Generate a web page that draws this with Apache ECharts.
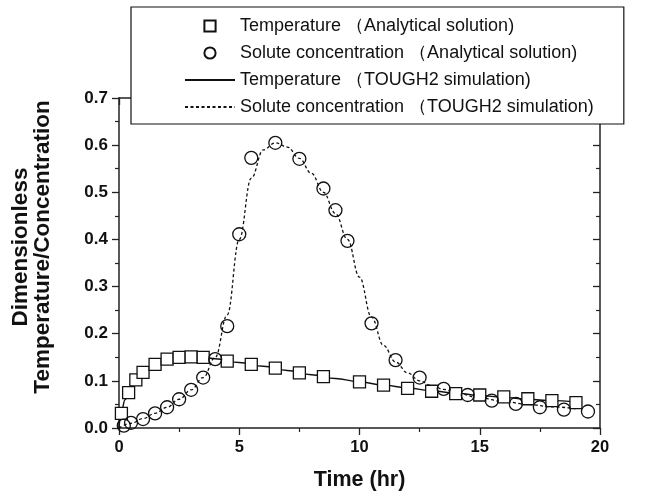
<!DOCTYPE html>
<html>
<head>
<meta charset="utf-8">
<script src="https://cdn.jsdelivr.net/npm/echarts@6/dist/echarts.min.js"></script>
<style>html,body{margin:0;padding:0;background:#fff;}#c{width:655px;height:497px;}</style>
</head>
<body>
<div id="c"></div>
<script>
// Analytical solution: temperature (squares)
var tempTime = [0.1, 0.4, 0.7, 1, 1.5, 2, 2.5, 3, 3.5, 4.5, 5.5, 6.5, 7.5, 8.5, 10, 11, 12, 13, 14, 15, 16, 17, 18, 19];
var tempValue = [0.031, 0.075, 0.102, 0.118, 0.135, 0.146, 0.150, 0.151, 0.150, 0.142, 0.135, 0.127, 0.117, 0.109, 0.098, 0.091, 0.084, 0.078, 0.073, 0.070, 0.066, 0.062, 0.058, 0.054];
// Analytical solution: solute concentration (circles)
var concTime = [0.2, 0.5, 1, 1.5, 2, 2.5, 3, 3.5, 4, 4.5, 5, 5.5, 6.5, 7.5, 8.5, 9, 9.5, 10.5, 11.5, 12.5, 13.5, 14.5, 15.5, 16.5, 17.5, 18.5, 19.5];
var concValue = [0.005, 0.011, 0.019, 0.031, 0.044, 0.061, 0.081, 0.107, 0.146, 0.216, 0.411, 0.573, 0.605, 0.571, 0.508, 0.462, 0.397, 0.222, 0.144, 0.107, 0.083, 0.070, 0.058, 0.051, 0.044, 0.039, 0.035];
// TOUGH2 simulation: temperature (solid line)
var simTempTime = [0, 0.1, 0.25, 0.5, 0.75, 1, 1.5, 2, 2.5, 3, 3.5, 4, 5, 6, 7, 8, 9, 10, 11, 12, 13, 14, 15, 16, 17, 18, 19];
var simTempValue = [0, 0.035, 0.06, 0.088, 0.106, 0.119, 0.135, 0.145, 0.150, 0.151, 0.150, 0.147, 0.139, 0.131, 0.122, 0.113, 0.105, 0.098, 0.091, 0.085, 0.079, 0.074, 0.069, 0.065, 0.061, 0.058, 0.055];
// TOUGH2 simulation: solute concentration (dashed line)
var simConcTime = [0, 0.5, 1, 1.5, 2, 2.5, 3, 3.5, 4, 4.5, 5, 5.5, 6, 6.5, 7, 7.5, 8, 8.5, 9, 9.5, 10, 10.5, 11, 11.5, 12, 12.5, 13, 13.5, 14, 15, 16, 17, 18, 19];
var simConcValue = [0, 0.01, 0.02, 0.031, 0.044, 0.061, 0.081, 0.107, 0.15, 0.24, 0.40, 0.53, 0.59, 0.605, 0.596, 0.572, 0.54, 0.5, 0.455, 0.4, 0.32, 0.235, 0.175, 0.14, 0.117, 0.1, 0.09, 0.082, 0.075, 0.064, 0.056, 0.05, 0.045, 0.041];
// Axis ticks
var xTicks = [0, 5, 10, 15, 20];
var yTicks = [0.0, 0.1, 0.2, 0.3, 0.4, 0.5, 0.6, 0.7];

var legendNames = [
  'Temperature \uFF08Analytical solution)',
  'Solute concentration \uFF08Analytical solution)',
  'Temperature \uFF08TOUGH2 simulation)',
  'Solute concentration \uFF08TOUGH2 simulation)'
];

function pairs(xs, ys) { return xs.map(function (x, i) { return [x, ys[i]]; }); }

var FONT = '"Liberation Sans", Arial, sans-serif';
var AX = '#222';

var chart = echarts.init(document.getElementById('c'), null, {renderer: 'canvas'});
var xBase = {
  type: 'value', min: xTicks[0], max: xTicks[xTicks.length - 1], interval: 5,
  splitLine: {show: false}
};
var yBase = {
  type: 'value', min: yTicks[0], max: yTicks[yTicks.length - 1], interval: 0.1,
  splitLine: {show: false}
};
chart.setOption({
  animation: false,
  backgroundColor: '#fff',
  grid: {left: 119, right: 55, top: 98, bottom: 69},
  xAxis: [
    Object.assign({}, xBase, {
      position: 'bottom',
      axisLine: {lineStyle: {color: AX, width: 1.5}},
      axisTick: {inside: false, length: 7, lineStyle: {color: AX, width: 1.3}},
      minorTick: {show: true, splitNumber: 2, length: 4, lineStyle: {color: AX, width: 1.2}},
      axisLabel: {margin: 11, color: '#111', fontFamily: FONT, fontWeight: 'bold', fontSize: 16.5},
      name: 'Time (hr)', nameLocation: 'middle', nameGap: 41,
      nameTextStyle: {color: '#111', fontFamily: FONT, fontWeight: 'bold', fontSize: 21.5}
    }),
    Object.assign({}, xBase, {
      position: 'top',
      axisLine: {onZero: false, lineStyle: {color: AX, width: 1.5}},
      axisTick: {inside: true, length: 7, lineStyle: {color: AX, width: 1.3}},
      minorTick: {show: true, splitNumber: 2, length: 4, lineStyle: {color: AX, width: 1.2}},
      axisLabel: {show: false}
    })
  ],
  yAxis: [
    Object.assign({}, yBase, {
      position: 'left',
      axisLine: {show: true, lineStyle: {color: AX, width: 1.5}},
      axisTick: {show: true, inside: false, length: 7, lineStyle: {color: AX, width: 1.3}},
      minorTick: {show: true, splitNumber: 2, length: 4, lineStyle: {color: AX, width: 1.2}},
      axisLabel: {margin: 11, color: '#111', fontFamily: FONT, fontWeight: 'bold', fontSize: 17,
        formatter: function (v) { return v.toFixed(1); }}
    }),
    Object.assign({}, yBase, {
      position: 'right',
      axisLine: {show: true, onZero: false, lineStyle: {color: AX, width: 1.5}},
      axisTick: {show: true, inside: true, length: 7, lineStyle: {color: AX, width: 1.3}},
      minorTick: {show: true, splitNumber: 2, length: 4, lineStyle: {color: AX, width: 1.2}},
      axisLabel: {show: false}
    })
  ],
  graphic: [{
    type: 'text', z: 10,
    style: {
      text: 'Dimensionless\nTemperature/Concentration',
      fill: '#111', font: 'bold 22.5px ' + FONT, align: 'center', verticalAlign: 'middle', lineHeight: 22
    },
    rotation: Math.PI / 2, x: 32, y: 247
  }],
  legend: {
    orient: 'vertical', left: 131, top: 7,
    padding: [10, 30, 8, 53],
    itemWidth: 50, itemHeight: 14, itemGap: 9,
    backgroundColor: '#fff', borderColor: '#111', borderWidth: 1.2,
    textStyle: {color: '#111', fontFamily: FONT, fontSize: 18, lineHeight: 18},
    data: [
      {name: legendNames[0]},
      {name: legendNames[1]},
      {name: legendNames[2], itemStyle: {opacity: 0}},
      {name: legendNames[3], itemStyle: {opacity: 0}}
    ]
  },
  series: [
    {
      name: legendNames[0], type: 'line', data: pairs(tempTime, tempValue),
      symbol: 'rect', symbolSize: 12, showSymbol: true,
      itemStyle: {color: '#fff', borderColor: '#111', borderWidth: 1.3},
      lineStyle: {width: 0, opacity: 0}, z: 4
    },
    {
      name: legendNames[1], type: 'line', data: pairs(concTime, concValue),
      symbol: 'circle', symbolSize: 13, showSymbol: true,
      itemStyle: {color: 'rgba(255,255,255,0)', borderColor: '#111', borderWidth: 1.3},
      lineStyle: {width: 0, opacity: 0}, z: 4
    },
    {
      name: legendNames[2], type: 'line', data: pairs(simTempTime, simTempValue),
      symbol: 'none', smooth: 0.4, smoothMonotone: 'x',
      itemStyle: {color: '#111'},
      lineStyle: {color: '#111', width: 1.4, type: 'solid'}, z: 3
    },
    {
      name: legendNames[3], type: 'line', data: pairs(simConcTime, simConcValue),
      symbol: 'none', smooth: 0.4, smoothMonotone: 'x',
      itemStyle: {color: '#111'},
      lineStyle: {color: '#111', width: 1.3, type: [3, 2.5]}, z: 3
    }
  ]
});
</script>
</body>
</html>
